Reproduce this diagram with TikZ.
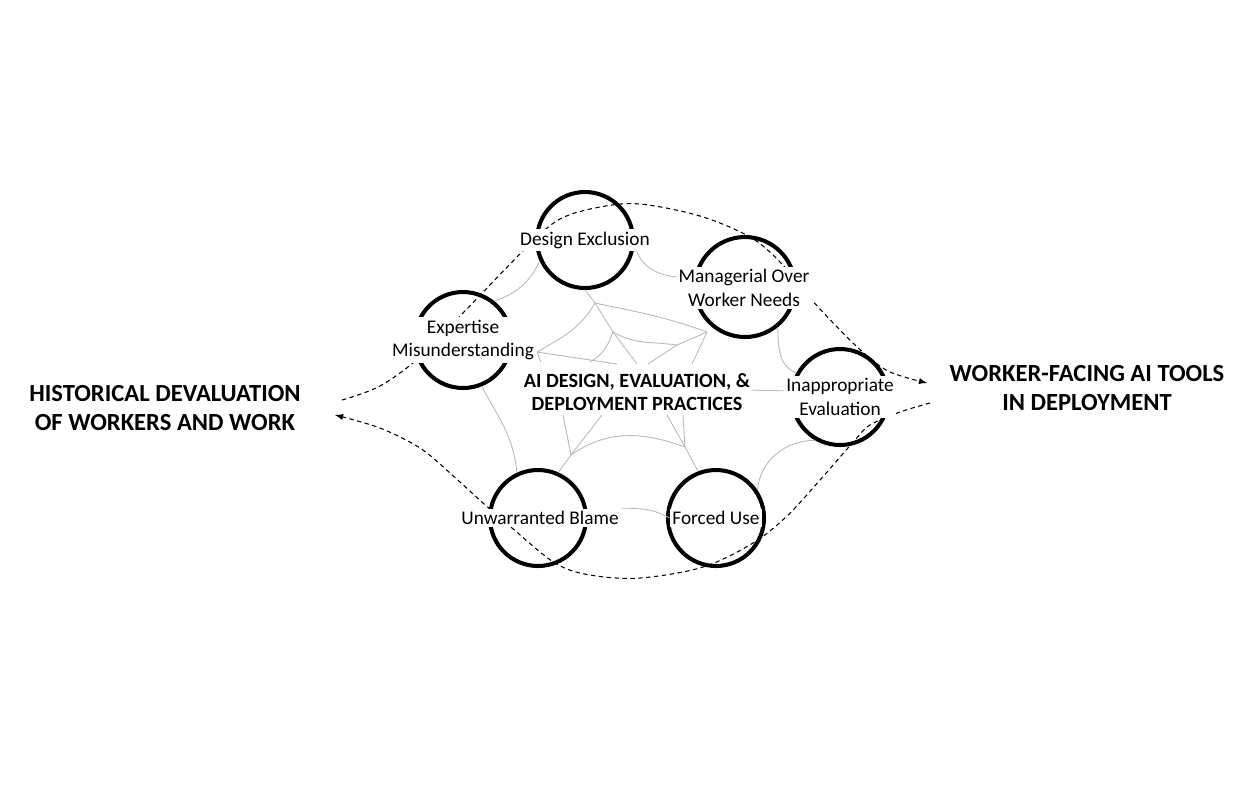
\documentclass[tikz,border=0pt]{standalone}
\usepackage{fontspec}
\setmainfont{Carlito}
\usetikzlibrary{arrows}
\tikzset{
  ring/.style={circle, draw, line width=2.3pt, minimum size=1.92cm, inner sep=0pt},
  tag/.style={fill=white, inner sep=1.5pt, align=center, font=\fontsize{11}{13.6}\selectfont},
  head/.style={align=center, font=\bfseries\fontsize{14}{17}\selectfont},
  web/.style={draw=gray!55, line width=0.5pt},
  flow/.style={dash pattern=on 2.5pt off 2pt, line width=0.6pt, -latex}
}

\begin{document}
\begin{tikzpicture}[x=0.02cm,y=-0.02cm]
\useasboundingbox (0,0) rectangle (1255,796);

 %circles
 \node[ring] (de) at (585,240) {};
 \node[ring, minimum size=2cm] (mw) at (745,287) {};
 \node[ring] (em) at (463,340) {};
 \node[ring] (ie) at (840,397) {};
 \node[ring] (ub) at (538,518) {};
 \node[ring] (fu) at (716,518) {};

 %web points
 \coordinate (v1) at (595,303);
 \coordinate (v2) at (613,332);
 \coordinate (v3) at (677,345);
 \coordinate (ws) at (537,352);
 \coordinate (wm) at (707,332);
 \coordinate (t1) at (590,362);
 \coordinate (t2) at (617,364);
 \coordinate (t3) at (637,364);
 \coordinate (t4) at (648,364);
 \coordinate (t5) at (692,364);
 \coordinate (t6) at (541,362);
 \coordinate (b1) at (563,415);
 \coordinate (b2) at (602,415);
 \coordinate (b3) at (667,415);
 \coordinate (b4) at (683,415);
 \coordinate (vl) at (571,455);
 \coordinate (vr) at (685,447);
 \coordinate (mwl) at (681,277);
 \coordinate (amp) at (742,390);

 %web: upper part
 \draw[web] (de.south) -- (v1) -- (v2) -- (t3);
 \draw[web] (v1) to[out=240,in=30] (ws);
 \draw[web] (v1) to[out=-12,in=160] (wm);
 \draw[web] (v2) to[out=250,in=30] (t1);
 \draw[web] (v2) to[out=-30,in=172] (v3);
 \draw[web] (wm) -- (v3) -- (t4);
 \draw[web] (wm) -- (t5);
 \draw[web] (ws) -- (t2);
 \draw[web] (ws) -- (t6);
 %web: lower part
 \draw[web] (b1) -- (vl) -- (ub.66);
 \draw[web] (b2) -- (vl);
 \draw[web] (vl) to[out=35,in=160] (vr);
 \draw[web] (b3) -- (vr) -- (fu.111);
 \draw[web] (b4) -- (vr);
 %web: ring to ring
 \draw[web] (de.205) to[out=245,in=20] (em.51);
 \draw[web] (de.355) to[out=-80,in=180] (mwl);
 \draw[web] (mw.309) to[out=-88,in=160] (ie.151);
 \draw[web] (em.292) to[out=-62,in=95] (ub.115);
 \draw[web] (amp) -- (ie.173);
 \draw[web] (fu.34) to[out=85,in=180] (ie.240);

 %dashed flows
 \coordinate (h-out) at (342,400);
 \coordinate (h-in) at (335,415);
 \coordinate (w-in) at (927,383);
 \coordinate (w-out) at (930,403);
 \draw[flow] plot[smooth, tension=0.55] coordinates {(h-out) (380,386) (420,357) (463,313)
   (527,247) (560,219) (600,207) (640,204) (700,216) (750,237) (780,262) (810,298)
   (840,330) (865,354) (890,372) (w-in)};
 \draw[flow] plot[smooth, tension=0.55] coordinates {(w-out) (900,412) (870,425) (855,440)
   (820,480) (787,516) (753,543) (703,567) (640,578) (590,575) (555,563) (512,528)
   (483,503) (450,473) (420,448) (380,428) (h-in)};

 %labels
 \node[tag] (de-t) at (585,240) {Design Exclusion};
 \node[tag] (mw-t) at (744,288) {Managerial Over\\Worker Needs};
 \node[tag] (em-t) at (463,340) {Expertise\\Misunderstanding};
 \node[tag] (ie-t) at (840,397) {Inappropriate\\Evaluation};
 \node[tag] (ub-t) at (540,518) {Unwarranted Blame};
 \node[tag] (fu-t) at (716,518) {Forced Use};
 \draw[web] (ub-t.north east) to[out=0,in=150] (fu-t.west);

 \node[head, fill=white, inner sep=1pt, font=\bfseries\fontsize{11.5}{13}\selectfont] (ai) at (637,392) {AI DESIGN, EVALUATION, \&\\DEPLOYMENT PRACTICES};
 \node[head] (hist) at (165,408) {HISTORICAL DEVALUATION\\OF WORKERS AND WORK};
 \node[head] (tools) at (1087,388) {WORKER-FACING AI TOOLS\\IN DEPLOYMENT};
\end{tikzpicture}
\end{document}
